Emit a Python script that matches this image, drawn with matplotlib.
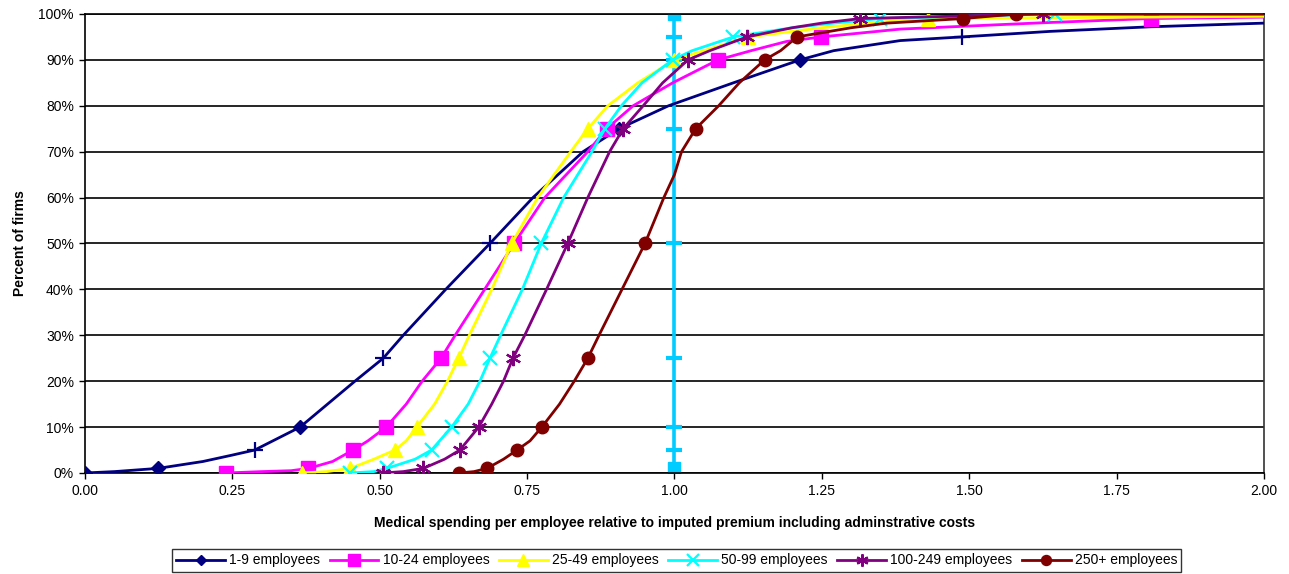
import numpy as np
import matplotlib
matplotlib.use("Agg")
import matplotlib.pyplot as plt
from matplotlib.ticker import FuncFormatter, MultipleLocator

plt.rcParams['font.family'] = ['Liberation Sans', 'DejaVu Sans']

# percentile levels where markers sit
levels = [0, 1, 5, 10, 25, 50, 75, 90, 95, 99, 100]

groups = ['1-9 employees', '10-24 employees', '25-49 employees',
          '50-99 employees', '100-249 employees', '250+ employees']

# spending ratio at each percentile level (None = beyond 2.00)
x_1_9 = [0.0, 0.124, 0.288, 0.365, 0.506, 0.687, 0.906, 1.213, 1.488, None, None]
x_10_24 = [0.24, 0.379, 0.455, 0.511, 0.604, 0.728, 0.885, 1.074, 1.249, 1.808, None]
x_25_49 = [0.368, 0.45, 0.526, 0.563, 0.634, 0.724, 0.853, 1.0, 1.125, 1.43, None]
x_50_99 = [0.45, 0.512, 0.588, 0.622, 0.687, 0.774, 0.882, 0.997, 1.10, 1.349, 1.645]
x_100_249 = [0.505, 0.574, 0.636, 0.668, 0.726, 0.819, 0.913, 1.023, 1.123, 1.315, 1.625]
x_250 = [0.635, 0.682, 0.733, 0.775, 0.853, 0.95, 1.036, 1.153, 1.208, 1.49, 1.58]

# extra points along each distribution curve: (percent, ratio)
extra_1_9 = [(0.3, 0.05), (2.5, 0.20), (3.9, 0.25), (20, 0.458), (30, 0.54), (40, 0.612),
             (60, 0.76), (70, 0.845), (80, 0.99), (85, 1.10), (92, 1.27), (94.2, 1.383),
             (96.2, 1.637), (97.2, 1.807), (98, 2.0)]
extra_10_24 = [(0.3, 0.30), (0.5, 0.35), (2.5, 0.42), (7, 0.48), (15, 0.545), (20, 0.572),
               (30, 0.628), (40, 0.678), (60, 0.78), (70, 0.853), (80, 0.93), (85, 0.997),
               (92, 1.13), (94, 1.19), (96.7, 1.383), (98, 1.61), (99.3, 2.0)]
extra_25_49 = [(0.3, 0.41), (3, 0.49), (7, 0.545), (15, 0.593), (20, 0.615), (30, 0.652),
               (40, 0.69), (60, 0.768), (70, 0.824), (80, 0.887), (85, 0.938), (97, 1.25),
               (98, 1.33), (99.5, 2.0)]
extra_50_99 = [(0.3, 0.49), (3, 0.56), (15, 0.65), (20, 0.67), (30, 0.705), (40, 0.742),
               (60, 0.812), (70, 0.86), (80, 0.91), (85, 0.945), (92, 1.03), (97, 1.2),
               (98, 1.27), (100, 2.0)]
extra_100_249 = [(0.3, 0.54), (3, 0.61), (15, 0.69), (20, 0.71), (30, 0.746), (40, 0.783),
                 (60, 0.853), (70, 0.89), (80, 0.947), (85, 0.98), (92, 1.06), (97, 1.2),
                 (98, 1.25), (100, 2.0)]
extra_250 = [(0.3, 0.66), (3, 0.71), (7, 0.755), (15, 0.805), (20, 0.83), (30, 0.872),
             (40, 0.911), (60, 0.982), (65, 1.0), (70, 1.012), (80, 1.075), (85, 1.11),
             (92, 1.18), (97, 1.3), (98, 1.36), (100, 2.0)]

# reference line at ratio 1.00
ref_levels = [1, 5, 10, 25, 50, 75, 90, 95, 100]

series = [
    (x_1_9, extra_1_9, '#000080', 'D', 7),
    (x_10_24, extra_10_24, '#FF00FF', 's', 10),
    (x_25_49, extra_25_49, '#FFFF00', '^', 10),
    (x_50_99, extra_50_99, '#00FFFF', 'x', 10),
    (x_100_249, extra_100_249, '#800080', (6, 2, 0), 11),
    (x_250, extra_250, '#800000', 'o', 9),
]

fig = plt.figure(figsize=(12.89, 5.74), dpi=100)
ax = fig.add_axes([0.0659, 0.176, 0.9147, 0.7997])

# vertical reference line
ax.plot([1.0, 1.0], [0, 100], color='#00CCFF', lw=2.6, zorder=2)
ax.plot([1.0] * (len(ref_levels) - 2), ref_levels[1:-1], ls='none', marker='_',
        ms=12, mew=3, color='#00CCFF', zorder=2)
ax.plot([1.0, 1.0], [ref_levels[0], ref_levels[-1]], ls='none', marker='s', ms=8,
        color='#00CCFF', zorder=2)

handles = []
for i, (xs, extra, col, mk, ms) in enumerate(series):
    pts = [(p, x) for p, x in zip(levels, xs) if x is not None] + extra
    pts.sort(key=lambda t: (t[1], t[0]))
    cy = [p for p, x in pts]
    cx = [x for p, x in pts]
    ax.plot(cx, cy, color=col, lw=2.0, zorder=3 + i)
    mx = [x for x in xs if x is not None]
    my = [p for p, x in zip(levels, xs) if x is not None]
    mew = 1.6 if mk in ('x', (6, 2, 0)) else 1
    if i == 0:
        # small firms alternate diamonds and crosses
        dmask = [p in (0, 1, 10, 75, 90) for p in my]
        ax.plot([x for x, d in zip(mx, dmask) if d], [p for p, d in zip(my, dmask) if d],
                ls='none', marker='D', ms=ms, color=col, zorder=3 + i)
        ax.plot([x for x, d in zip(mx, dmask) if not d], [p for p, d in zip(my, dmask) if not d],
                ls='none', marker='+', ms=11, mew=1.6, color=col, zorder=3 + i)
    else:
        ax.plot(mx, my, ls='none', marker=mk, ms=ms, mew=mew, color=col, zorder=3 + i)
    h, = ax.plot([], [], color=col, lw=2.0, marker=mk, ms=ms * 0.8, mew=mew)
    handles.append(h)

ax.set_xlim(0, 2.0)
ax.set_ylim(0, 100)
ax.xaxis.set_major_locator(MultipleLocator(0.25))
ax.yaxis.set_major_locator(MultipleLocator(10))
ax.xaxis.set_major_formatter(FuncFormatter(lambda v, p: '%.2f' % v))
ax.yaxis.set_major_formatter(FuncFormatter(lambda v, p: '%d%%' % v))
ax.grid(axis='y', color='black', lw=1.2)
ax.set_axisbelow(True)
ax.tick_params(labelsize=10, length=4, width=1, direction='out', pad=4)
for s in ax.spines.values():
    s.set_linewidth(1.2)
    s.set_color('black')
ax.spines['right'].set_color('#333333')

ax.set_xlabel('Medical spending per employee relative to imputed premium including adminstrative costs',
              fontsize=10, fontweight='bold', labelpad=13)
ax.set_ylabel('Percent of firms', fontsize=10, fontweight='bold', labelpad=8)

leg = fig.legend(handles, groups, loc='lower center', bbox_to_anchor=(0.525, -0.008), ncol=6,
                 fontsize=10, frameon=True, fancybox=False, edgecolor='black',
                 handlelength=3.5, handletextpad=0.3, columnspacing=0.7, borderpad=0.3)
leg.get_frame().set_linewidth(1.0)

fig.savefig('out.png', dpi=100)
